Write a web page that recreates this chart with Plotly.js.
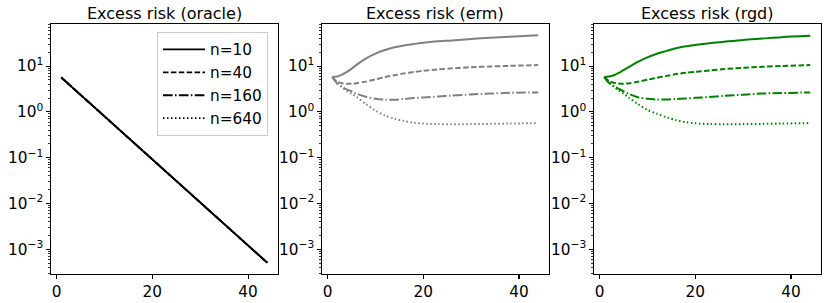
<!DOCTYPE html>
<html>
<head>
<meta charset="utf-8">
<script src="https://cdn.plot.ly/plotly-3.0.1.min.js"></script>
<style>html,body{margin:0;padding:0;background:#fff;}#chart{width:830px;height:303px;}</style>
</head>
<body>
<div id="chart"></div>
<script>
// ---- data ----
const panelTitles = ['Excess risk (oracle)', 'Excess risk (erm)', 'Excess risk (rgd)'];
const seriesNames = ['n=10', 'n=40', 'n=160', 'n=640'];

const xOracle = [1, 5, 10, 15, 20, 25, 30, 35, 40, 44];
const oracleRisk = [5.62, 2.37, 0.80, 0.272, 0.092, 0.0312, 0.0106, 0.00358, 0.00121, 0.00051];

const xIter = [1, 2, 3, 4, 5, 6, 8, 10, 12, 14, 16, 18, 20, 23, 26, 30, 34, 38, 44];

const ermN10  = [5.75, 5.9, 6.5, 7.4, 8.7, 10.5, 14.5, 18.6, 22.4, 25.7, 28.2, 30.2, 32.4, 34.7, 36.3, 38.9, 41.7, 43.7, 46.8];
const ermN40  = [5.75, 4.57, 4.22, 4.12, 4.12, 4.22, 4.57, 5.13, 5.75, 6.31, 6.92, 7.41, 7.85, 8.41, 8.91, 9.44, 9.77, 10.1, 10.5];
const ermN160 = [5.75, 4.17, 3.55, 3.09, 2.82, 2.51, 2.14, 1.93, 1.84, 1.84, 1.91, 2.0, 2.07, 2.16, 2.26, 2.40, 2.51, 2.60, 2.66];
const ermN640 = [5.75, 4.27, 3.47, 2.88, 2.51, 2.14, 1.48, 1.07, 0.83, 0.71, 0.63, 0.58, 0.556, 0.54, 0.537, 0.54, 0.547, 0.555, 0.569];

const rgdN10  = [5.75, 5.89, 6.31, 7.08, 8.13, 9.33, 12.3, 15.5, 18.6, 21.4, 24.5, 26.9, 28.8, 31.6, 33.9, 37.2, 39.8, 42.7, 45.7];
const rgdN40  = [5.75, 4.68, 4.32, 4.17, 4.12, 4.17, 4.52, 5.01, 5.56, 6.1, 6.68, 7.16, 7.5, 8.04, 8.61, 9.12, 9.66, 10.0, 10.5];
const rgdN160 = [5.75, 4.27, 3.63, 3.16, 2.82, 2.51, 2.09, 1.93, 1.86, 1.86, 1.91, 1.95, 2.02, 2.11, 2.24, 2.37, 2.51, 2.57, 2.66];
const rgdN640 = [5.75, 4.37, 3.55, 2.95, 2.51, 2.09, 1.48, 1.10, 0.91, 0.76, 0.66, 0.596, 0.562, 0.543, 0.537, 0.54, 0.547, 0.556, 0.569];

const yTickVals = [0.001, 0.01, 0.1, 1, 10];
const yTickText = ['10<sup>\u22123</sup>', '10<sup>\u22122</sup>', '10<sup>\u22121</sup>', '10<sup>0</sup>', '10<sup>1</sup>'];
const xTickVals = [0, 20, 40];

// ---- styles ----
const dashes = ['solid', '5.5px,2.4px', '9.6px,2.4px,1.5px,2.4px', '1.5px,2.5px'];
const FONT = 'DejaVu Sans, Liberation Sans, sans-serif';
const FS = 15.3;

const traces = [];
[oracleRisk, oracleRisk, oracleRisk, oracleRisk].forEach((y, i) => {
  traces.push({x: xOracle, y: y, mode: 'lines', name: seriesNames[i], xaxis: 'x', yaxis: 'y',
    legendgroup: 'g' + i,
    line: {color: '#000000', width: 1.8, dash: dashes[i]}, showlegend: true});
});
[ermN10, ermN40, ermN160, ermN640].forEach((y, i) => {
  traces.push({x: xIter, y: y, mode: 'lines', name: seriesNames[i], xaxis: 'x2', yaxis: 'y2',
    line: {color: '#808080', width: 2, dash: dashes[i], shape: 'spline', smoothing: 0.8}, showlegend: false});
});
[rgdN10, rgdN40, rgdN160, rgdN640].forEach((y, i) => {
  traces.push({x: xIter, y: y, mode: 'lines', name: seriesNames[i], xaxis: 'x3', yaxis: 'y3',
    line: {color: '#007f00', width: 2, dash: dashes[i], shape: 'spline', smoothing: 0.8}, showlegend: false});
});

const W = 830, H = 303;
const panelsPx = [[51, 277.5], [322, 548.5], [594, 820.5]];
const yDom = [(H - 274) / H, (H - 24) / H];

function xAxis(i) {
  return {domain: [panelsPx[i][0] / W, panelsPx[i][1] / W], anchor: i === 0 ? 'y' : 'y' + (i + 1),
    range: [-1.15, 46.15], tickvals: xTickVals, tickmode: 'array', ticks: 'outside', ticklen: 3.5, tickwidth: 1.1,
    tickcolor: '#000', showline: true, mirror: true, linecolor: '#000', linewidth: 1.1, showgrid: false,
    zeroline: false, tickfont: {family: FONT, size: FS, color: '#000'}};
}
function yAxis(i) {
  return {domain: yDom, anchor: i === 0 ? 'x' : 'x' + (i + 1), type: 'log',
    range: [-3.54, 1.918], tickmode: 'array', tickvals: yTickVals, ticktext: yTickText,
    ticks: 'outside', ticklen: 3.5, tickwidth: 1.1, tickcolor: '#000',
    minor: {dtick: 'D1', ticks: 'outside', ticklen: 2, tickwidth: 0.8, tickcolor: '#000', showgrid: false},
    showline: true, mirror: true, linecolor: '#000', linewidth: 1.1, showgrid: false, zeroline: false,
    tickfont: {family: FONT, size: FS, color: '#000'}};
}

const annotations = panelTitles.map((t, i) => ({
  text: t, x: (panelsPx[i][0] + panelsPx[i][1]) / 2 / W, y: (H - 13.3) / H, xref: 'paper', yref: 'paper',
  xanchor: 'center', yanchor: 'middle', showarrow: false, font: {family: FONT, size: 16, color: '#000'}
}));

const layout = {
  width: W, height: H, margin: {l: 0, r: 0, t: 0, b: 0},
  paper_bgcolor: '#fff', plot_bgcolor: '#fff',
  font: {family: FONT, size: FS, color: '#000'},
  xaxis: xAxis(0), yaxis: yAxis(0),
  xaxis2: xAxis(1), yaxis2: yAxis(1),
  xaxis3: xAxis(2), yaxis3: yAxis(2),
  annotations: annotations,
  legend: {x: 157 / W, y: (H - 32) / H, xanchor: 'left', yanchor: 'top', bgcolor: 'rgba(255,255,255,0.8)',
    bordercolor: '#cccccc', borderwidth: 1, font: {family: FONT, size: 15.3, color: '#000'},
    tracegroupgap: 1.5, itemwidth: 42, traceorder: 'normal'},
  showlegend: true
};

Plotly.newPlot('chart', traces, layout, {staticPlot: true, displayModeBar: false});
</script>
</body>
</html>
